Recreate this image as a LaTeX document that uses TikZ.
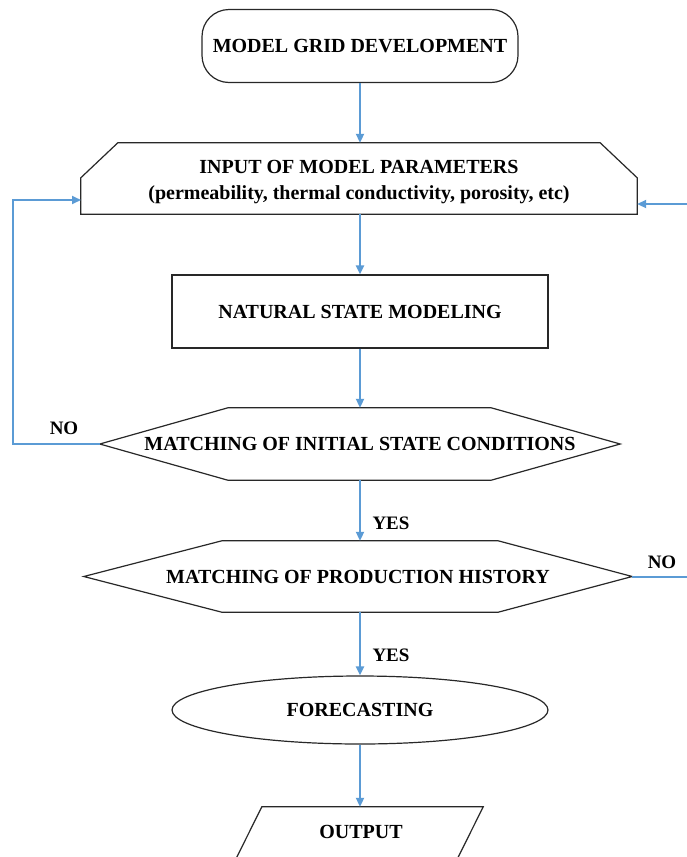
\documentclass[tikz,border=0pt]{standalone}
\usepackage{fontspec}
\setmainfont{Liberation Serif}
\usetikzlibrary{arrows.meta,calc,shapes.geometric}
\definecolor{flowblue}{RGB}{91,155,213}
\definecolor{edgegray}{RGB}{40,40,40}
\tikzset{
  txt/.style={font=\fontsize{20}{26}\selectfont\bfseries, text=black, inner sep=0pt, align=center},
  outline/.style={draw=edgegray, line width=1.2pt, line join=miter},
  flow/.style={draw=flowblue, line width=2pt},
  arr/.style={flow, -{Triangle[length=9pt,width=8pt]}},
  lbl/.style={font=\fontsize{19}{22}\selectfont\bfseries, text=black, inner sep=0pt}
}
\begin{document}
\begin{tikzpicture}[x=1pt,y=-1pt]
\useasboundingbox (0,0) rectangle (687,857);
\clip (0,0) rectangle (687,857);
\fill[white] (0,0) rectangle (687,857);

% top box
\node[txt, outline, rounded corners=27pt, minimum width=316pt, minimum height=73pt] (grid) at (360,46) {MODEL GRID DEVELOPMENT};

% input box
\node[txt, minimum width=556pt, minimum height=71pt] (input) at (359,178.5) {};
\draw[outline] (input.south west) -- ($(input.north west)+(0,35)$) -- ($(input.north west)+(37,0)$) -- ($(input.north east)+(-37,0)$) -- ($(input.north east)+(0,35)$) -- (input.south east) -- cycle;
\node[txt] (inputtext) at (359,182) {INPUT OF MODEL PARAMETERS\\(permeability, thermal conductivity, porosity, etc)};

% natural state
\node[txt, outline, minimum width=376pt, minimum height=73pt] (nat) at (360,311.5) {NATURAL STATE MODELING};

% first decision
\node[txt, minimum width=520pt, minimum height=72pt] (m1) at (360,444) {MATCHING OF INITIAL STATE CONDITIONS};
\draw[outline] (m1.west) -- ($(m1.north west)+(128,0)$) -- ($(m1.north east)+(-129,0)$) -- (m1.east) -- ($(m1.south east)+(-129,0)$) -- ($(m1.south west)+(128,0)$) -- cycle;

% second decision
\node[txt, minimum width=548pt, minimum height=71pt] (m2) at (358,576.5) {MATCHING OF PRODUCTION HISTORY};
\draw[outline] (m2.west) -- ($(m2.north west)+(138,0)$) -- ($(m2.north east)+(-134,0)$) -- (m2.east) -- ($(m2.south east)+(-134,0)$) -- ($(m2.south west)+(138,0)$) -- cycle;

% forecasting
\node[txt, outline, ellipse, inner sep=0pt, minimum width=376pt, minimum height=68pt] (fc) at (360,710) {FORECASTING};

% output
\node[txt, minimum width=248pt, minimum height=54pt] (out) at (359,834) {};
\draw[outline] (out.south west) -- ($(out.north west)+(27,0)$) -- (out.north east) -- ($(out.south east)+(-27,0)$);
\node[txt] (outtext) at (361,832) {OUTPUT};

% main connectors
\draw[arr] (grid.south) -- (grid.south |- input.north);
\draw[arr] (input.south -| nat.north) -- (nat.north);
\draw[arr] (nat.south) -- (nat.south |- m1.north);
\draw[arr] (m1.south) -- (m1.south |- m2.north);
\draw[arr] (m1.south |- m2.south) -- (fc.north);
\draw[arr] (fc.south) -- (fc.south |- out.north);

% feedback left
\coordinate (lcorner) at (13,444);
\coordinate (lend) at (81,200);
\draw[arr] (m1.west) -- (lcorner) |- (lend);
\node[lbl] (no1) at (64,428) {NO};

% feedback right (leaves the picture)
\coordinate (rexit) at (692,576.5);
\coordinate (rentry) at (692,204);
\draw[flow] (m2.east) -- (rexit);
\draw[arr] (rentry) -- (input.east |- rentry);
\node[lbl] (no2) at (662,562) {NO};

% yes labels
\node[lbl] (yes1) at (391,523) {YES};
\node[lbl] (yes2) at (391,655) {YES};
\end{tikzpicture}
\end{document}
